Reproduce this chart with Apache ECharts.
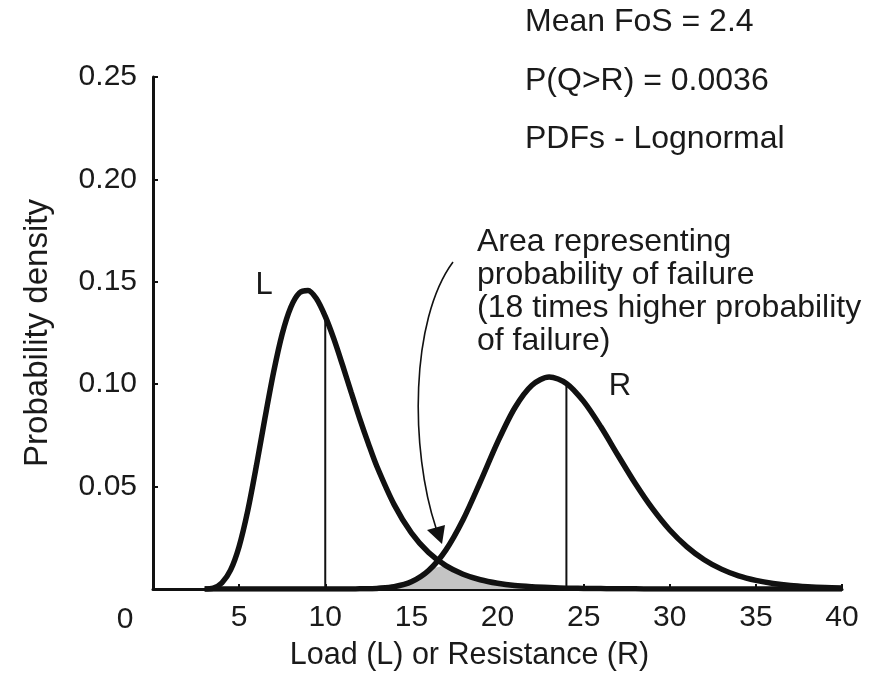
<!DOCTYPE html>
<html>
<head>
<meta charset="utf-8">
<title>Load and resistance PDFs</title>
<script src="https://cdn.jsdelivr.net/npm/echarts@6/dist/echarts.min.js"></script>
<style>
  html, body { margin: 0; padding: 0; background: #fff; }
  #chart { width: 884px; height: 676px; }
</style>
</head>
<body>
<div id="chart"></div>
<script>
// Sample points along the horizontal axis (load / resistance value)
const xValues = [3, 3.5, 4, 4.5, 5, 5.5, 6, 6.5, 7, 7.5, 8, 8.5, 9, 9.5, 10, 10.5, 11, 11.5, 12, 12.5,
                 13, 14, 15, 16, 17, 18, 19, 20, 21, 22, 23, 24, 25, 26, 27, 28, 29, 30,
                 31, 32, 33, 34, 35, 36, 37, 38, 39, 40];

// Load (L) probability density
const loadDensity = [0, 0.0004, 0.0030, 0.0092, 0.0208, 0.0382, 0.0600, 0.0835, 0.1058, 0.1245, 0.1376, 0.1446, 0.1458, 0.1416, 0.1331, 0.1221, 0.1094, 0.0962, 0.0832, 0.0711,
                     0.0598, 0.0412, 0.0274, 0.0178, 0.0114, 0.0072, 0.0045, 0.0028, 0.0017, 0.0011, 0.0007, 0.0004, 0.0003, 0.0002, 0.0001, 0.0001, 0, 0,
                     0, 0, 0, 0, 0, 0, 0, 0, 0, 0];

// Resistance (R) probability density
const resistanceDensity = [0, 0, 0, 0, 0, 0, 0, 0, 0, 0, 0, 0, 0, 0, 0, 0, 0, 0, 0.0001, 0.0001,
                           0.0003, 0.0011, 0.0035, 0.0090, 0.0190, 0.0338, 0.0523, 0.0716, 0.0884, 0.0995, 0.1035, 0.1004, 0.0916, 0.0792, 0.0652, 0.0515, 0.0392, 0.0288,
                           0.0206, 0.0143, 0.0097, 0.0064, 0.0042, 0.0027, 0.0017, 0.0011, 0.0007, 0.0005];

// Mean values, drawn as vertical lines up to each curve
const loadMean = 10;
const loadMeanDensity = 0.1331;
const resistanceMean = 24;
const resistanceMeanDensity = 0.1004;

// Axis ticks
const xTicks = [0, 5, 10, 15, 20, 25, 30, 35, 40];
const yTicks = [0, 0.05, 0.10, 0.15, 0.20, 0.25];

const textColor = '#1a1a1a';
const font = 'Liberation Sans, Arial, sans-serif';

const loadPoints = xValues.map((x, i) => [x, loadDensity[i]]);
const resPoints = xValues.map((x, i) => [x, resistanceDensity[i]]);
// Overlap region: the smaller of the two densities
const overlapPoints = xValues.map((x, i) => [x, Math.min(loadDensity[i], resistanceDensity[i])]);

const chart = echarts.init(document.getElementById('chart'), null, { renderer: 'canvas' });

const option = {
  animation: false,
  backgroundColor: '#ffffff',
  grid: { left: 153, right: 42, top: 77, bottom: 87, containLabel: false },
  xAxis: {
    type: 'value',
    min: xTicks[0],
    max: xTicks[xTicks.length - 1],
    interval: xTicks[1] - xTicks[0],
    name: 'Load (L) or Resistance (R)',
    nameLocation: 'middle',
    nameGap: 51,
    nameTextStyle: { fontFamily: font, fontSize: 30.5, color: textColor, padding: [0, 56, 0, 0] },
    axisLine: { show: true, onZero: false, lineStyle: { color: '#111', width: 3 } },
    axisTick: { show: true, inside: true, length: 5, lineStyle: { color: '#111', width: 2 } },
    axisLabel: { showMinLabel: false, margin: 14, fontFamily: font, fontSize: 30, color: textColor },
    splitLine: { show: false }
  },
  yAxis: {
    type: 'value',
    min: yTicks[0],
    max: yTicks[yTicks.length - 1],
    interval: yTicks[1] - yTicks[0],
    name: 'Probability density',
    nameLocation: 'middle',
    nameGap: 99,
    nameTextStyle: { fontFamily: font, fontSize: 33, color: textColor },
    axisLine: { show: true, lineStyle: { color: '#111', width: 3 } },
    axisTick: { show: true, inside: true, length: 5, lineStyle: { color: '#111', width: 2 } },
    axisLabel: {
      showMinLabel: false, margin: 16, fontFamily: font, fontSize: 30, color: textColor,
      formatter: v => v.toFixed(2)
    },
    splitLine: { show: false }
  },
  series: [
    {
      name: 'overlap',
      type: 'line',
      data: overlapPoints,
      smooth: 0.3,
      symbol: 'none',
      lineStyle: { width: 0 },
      areaStyle: { color: '#c4c4c4', opacity: 1 },
      z: 1
    },
    {
      name: 'L',
      type: 'line',
      data: loadPoints,
      smooth: 0.3,
      symbol: 'none',
      lineStyle: { color: '#111', width: 5.5 },
      z: 3
    },
    {
      name: 'R',
      type: 'line',
      data: resPoints,
      smooth: 0.3,
      symbol: 'none',
      lineStyle: { color: '#111', width: 5.5 },
      z: 3
    },
    {
      name: 'L mean',
      type: 'line',
      data: [[loadMean, 0], [loadMean, loadMeanDensity]],
      symbol: 'none',
      lineStyle: { color: '#111', width: 2 },
      z: 2
    },
    {
      name: 'R mean',
      type: 'line',
      data: [[resistanceMean, 0], [resistanceMean, resistanceMeanDensity]],
      symbol: 'none',
      lineStyle: { color: '#111', width: 2 },
      z: 2
    }
  ],
  graphic: [
    { type: 'text', x: 125, y: 620, style: { text: '0', font: '30px ' + font, fill: textColor, align: 'center', verticalAlign: 'middle', textAlign: 'center', textVerticalAlign: 'middle' } },
    { type: 'text', x: 525, y: 22, style: { text: 'Mean FoS = 2.4', font: '32px ' + font, fill: textColor, verticalAlign: 'middle', textVerticalAlign: 'middle' } },
    { type: 'text', x: 525, y: 81, style: { text: 'P(Q>R) = 0.0036', font: '32px ' + font, fill: textColor, verticalAlign: 'middle', textVerticalAlign: 'middle' } },
    { type: 'text', x: 525, y: 139, style: { text: 'PDFs - Lognormal', font: '32px ' + font, fill: textColor, verticalAlign: 'middle', textVerticalAlign: 'middle' } },
    { type: 'text', x: 477, y: 226, style: { text: 'Area representing\nprobability of failure\n(18 times higher probability\nof failure)', font: '32px ' + font, fill: textColor, lineHeight: 33, verticalAlign: 'top', textVerticalAlign: 'top' } },
    { type: 'text', x: 264, y: 285, style: { text: 'L', font: '31px ' + font, fill: textColor, align: 'center', verticalAlign: 'middle', textAlign: 'center', textVerticalAlign: 'middle' } },
    { type: 'text', x: 620, y: 386, style: { text: 'R', font: '31px ' + font, fill: textColor, align: 'center', verticalAlign: 'middle', textAlign: 'center', textVerticalAlign: 'middle' } },
    { type: 'bezierCurve', shape: { x1: 453, y1: 262, cpx1: 410, cpy1: 320, cpx2: 410, cpy2: 450, x2: 436, y2: 528 }, style: { stroke: '#111', lineWidth: 1.6, fill: null }, z: 10 },
    { type: 'polygon', shape: { points: [[442, 544], [427, 530], [445, 525]] }, style: { fill: '#111' }, z: 10 }
  ]
};

chart.setOption(option);
</script>
</body>
</html>
